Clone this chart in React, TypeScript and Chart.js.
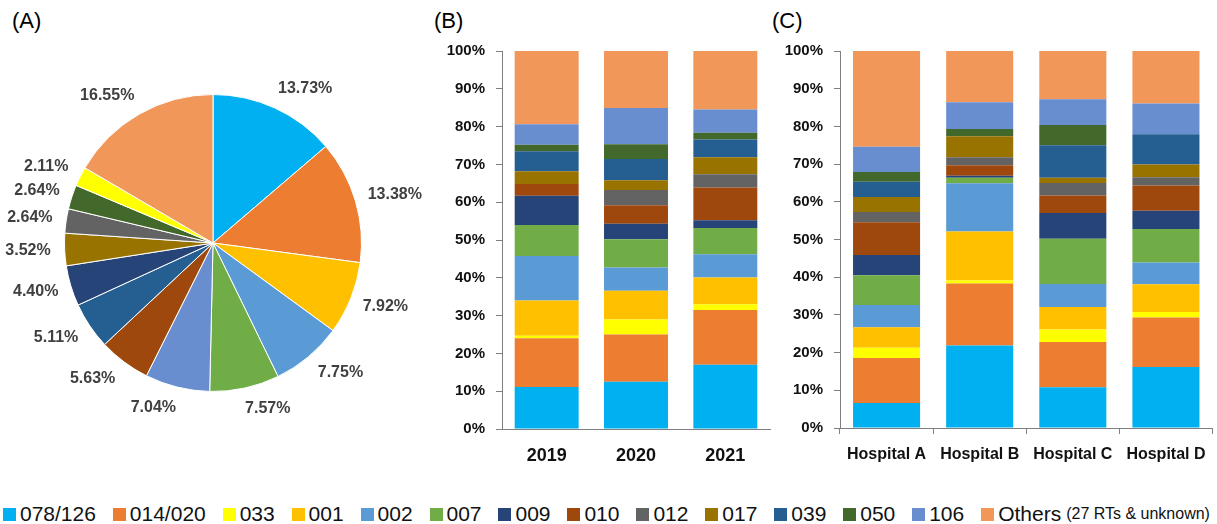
import React, { useEffect, useRef } from 'react';
import { Chart, registerables } from 'chart.js';

Chart.register(...registerables);

const FONT = '"Liberation Sans", Arial, sans-serif';
Chart.defaults.font.family = FONT;

// Serotypes (RTs) shown in every panel, bottom to top in the stacks
const SERIES = ['078/126', '014/020', '033', '001', '002', '007', '009', '010', '012', '017', '039', '050', '106', 'Others'];
const COLORS = ['#00B0F0', '#ED7D31', '#FFFF00', '#FFC000', '#5B9BD5', '#70AD47', '#264478', '#9E480E', '#636363', '#997300', '#255E91', '#43682B', '#698ED0', '#F1975A'];

// (A) overall distribution, clockwise from 12 o'clock
const PIE_LABELS = ['078/126', '014/020', '001', '002', '007', '106', '010', '039', '009', '017', '012', '050', '033', 'Others'];
const PIE_VALUES = [13.73, 13.38, 7.92, 7.75, 7.57, 7.04, 5.63, 5.11, 4.40, 3.52, 2.64, 2.64, 2.11, 16.55];

// (B) share per year (%), in SERIES order
const YEARS = ['2019', '2020', '2021'];
const SHARE_2019 = [11.1, 12.9, 0.7, 9.3, 11.8, 8.2, 7.7, 3.1, 0, 3.4, 5.3, 1.7, 5.4, 19.4];
const SHARE_2020 = [12.5, 12.5, 4.0, 7.6, 6.1, 7.5, 4.1, 4.9, 4.0, 2.6, 5.6, 3.9, 9.6, 15.1];
const SHARE_2021 = [17.0, 14.5, 1.5, 7.1, 6.1, 7.0, 2.0, 8.7, 3.5, 4.5, 4.7, 1.8, 6.1, 15.5];

// (C) share per hospital (%), in SERIES order
const HOSPITALS = ['Hospital A', 'Hospital B', 'Hospital C', 'Hospital D'];
const SHARE_HOSP_A = [6.6, 12.0, 2.7, 5.4, 5.9, 7.9, 5.4, 8.7, 2.7, 4.0, 4.0, 2.6, 6.7, 25.4];
const SHARE_HOSP_B = [21.9, 16.4, 0.8, 13.0, 12.8, 1.5, 0.5, 2.8, 2.1, 5.6, 0, 1.9, 7.1, 13.6];
const SHARE_HOSP_C = [10.8, 12.0, 3.3, 6.0, 6.1, 12.0, 6.8, 4.7, 3.3, 1.4, 8.6, 5.4, 6.8, 12.8];
const SHARE_HOSP_D = [16.2, 13.1, 1.5, 7.3, 5.8, 8.9, 4.8, 6.7, 2.2, 3.4, 8.0, 0, 8.2, 13.9];

const Y_TICK_STEP = 10;
const AXIS = '#7f7f7f';
const TEXT = '#111111';

const colorOf = (name: string) => COLORS[SERIES.indexOf(name)];

// Percent labels placed just outside each slice; labels near the top and
// bottom of the pie are nudged sideways so they clear their neighbours.
const pieLabelPlugin = {
  id: 'pieOutsideLabels',
  afterDatasetsDraw(chart: any) {
    const { ctx } = chart;
    const meta = chart.getDatasetMeta(0);
    const values = chart.data.datasets[0].data as number[];
    ctx.save();
    ctx.font = `bold 16px ${FONT}`;
    ctx.fillStyle = '#404040';
    ctx.textAlign = 'center';
    ctx.textBaseline = 'middle';
    meta.data.forEach((arc: any, i: number) => {
      const { x, y, startAngle, endAngle, outerRadius } = arc.getProps(['x', 'y', 'startAngle', 'endAngle', 'outerRadius'], true);
      const mid = (startAngle + endAngle) / 2;
      const dx = Math.cos(mid);
      const dy = Math.sin(mid);
      const text = values[i].toFixed(2) + '%';
      const w = ctx.measureText(text).width;
      const h = 14;
      const r = outerRadius + 14;
      const nudge = Math.max(0, 18 * dy * dy - 2) * Math.sign(dx);
      const cx = x + dx * r + dx * w / 2 + nudge;
      const cy = y + dy * r + dy * h / 2;
      ctx.fillText(text, cx, cy);
    });
    ctx.restore();
  },
};

function useChart(make: (c: HTMLCanvasElement) => Chart) {
  const ref = useRef<HTMLCanvasElement | null>(null);
  useEffect(() => {
    if (!ref.current) return;
    const chart = make(ref.current);
    return () => chart.destroy();
  }, []);
  return ref;
}

function stackedBar(
  canvas: HTMLCanvasElement,
  labels: string[],
  shares: number[][],
  opts: { barPct: number; yWidth: number; xHeight: number; padRight: number; xFont: number; xPad: number; xTicks: boolean }
) {
  return new Chart(canvas, {
    type: 'bar',
    data: {
      labels,
      datasets: SERIES.map((name, i) => ({
        label: name,
        data: shares.map((s) => s[i]),
        backgroundColor: COLORS[i],
        borderWidth: 0,
        barPercentage: opts.barPct,
        categoryPercentage: 1,
      })),
    },
    options: {
      animation: false,
      responsive: false,
      devicePixelRatio: 1,
      layout: { padding: { top: 21, right: opts.padRight, bottom: 0, left: 0 } },
      plugins: { legend: { display: false }, tooltip: { enabled: false } },
      scales: {
        x: {
          stacked: true,
          grid: opts.xTicks
            ? { display: true, drawOnChartArea: false, drawTicks: true, tickLength: 6, color: AXIS, offset: true }
            : { display: false, drawTicks: false },
          border: { display: true, color: AXIS, width: 1 },
          ticks: { padding: opts.xPad, color: TEXT, font: { size: opts.xFont, weight: 'bold' }, maxRotation: 0 },
          afterFit: (s: any) => { s.height = opts.xHeight; },
        },
        y: {
          stacked: true,
          min: 0,
          max: 100,
          grid: { drawOnChartArea: false, drawTicks: true, tickLength: 6, color: AXIS },
          border: { display: true, color: AXIS, width: 1 },
          ticks: {
            stepSize: Y_TICK_STEP,
            padding: 11,
            color: TEXT,
            font: { size: 15, weight: 'bold' },
            callback: (v: any) => `${v}%`,
          },
          afterFit: (s: any) => { s.width = opts.yWidth; },
        },
      },
    },
  } as any);
}

const panelTitle: React.CSSProperties = {
  position: 'absolute',
  fontFamily: FONT,
  fontSize: 22,
  lineHeight: '22px',
  color: '#000',
  top: 10,
};

export default function App() {
  const pieRef = useChart((c) =>
    new Chart(c, {
      type: 'pie',
      data: {
        labels: PIE_LABELS,
        datasets: [{
          data: PIE_VALUES,
          backgroundColor: PIE_LABELS.map(colorOf),
          borderColor: '#ffffff',
          borderWidth: 1,
        }],
      },
      options: {
        animation: false,
        responsive: false,
        devicePixelRatio: 1,
        layout: { padding: { left: 64, top: 64, right: 68, bottom: 78 } },
        plugins: { legend: { display: false }, tooltip: { enabled: false } },
      },
      plugins: [pieLabelPlugin],
    } as any)
  );

  const yearRef = useChart((c) =>
    stackedBar(c, YEARS, [SHARE_2019, SHARE_2020, SHARE_2021], {
      barPct: 0.716, yWidth: 62, xHeight: 41, padRight: 2, xFont: 18, xPad: 16, xTicks: false,
    })
  );

  const hospRef = useChart((c) =>
    stackedBar(c, HOSPITALS, [SHARE_HOSP_A, SHARE_HOSP_B, SHARE_HOSP_C, SHARE_HOSP_D], {
      barPct: 0.72, yWidth: 60, xHeight: 42, padRight: 4, xFont: 16, xPad: 11, xTicks: true,
    })
  );

  return (
    <div style={{ position: 'absolute', left: 0, top: 0, width: 1217, height: 524, background: '#fff', overflow: 'hidden' }}>
      <div style={{ ...panelTitle, left: 12 }}>(A)</div>
      <div style={{ ...panelTitle, left: 434 }}>(B)</div>
      <div style={{ ...panelTitle, left: 772 }}>(C)</div>

      <canvas ref={pieRef} width={430} height={440} style={{ position: 'absolute', left: 0, top: 30, width: 430, height: 440 }} />
      <canvas ref={yearRef} width={332} height={440} style={{ position: 'absolute', left: 440, top: 30, width: 332, height: 440 }} />
      <canvas ref={hospRef} width={437} height={440} style={{ position: 'absolute', left: 780, top: 30, width: 437, height: 440 }} />

      <div
        style={{
          position: 'absolute', left: 3, top: 503, width: 1207, height: 22,
          display: 'flex', alignItems: 'center', justifyContent: 'space-between',
          fontFamily: FONT, fontSize: 21, color: TEXT, whiteSpace: 'nowrap',
        }}
      >
        {SERIES.map((name, i) => (
          <div key={name} style={{ display: 'flex', alignItems: 'center' }}>
            <span style={{ display: 'inline-block', width: 13, height: 13, background: COLORS[i], marginRight: 4 }} />
            <span>{name}</span>
            {name === 'Others' && <span style={{ fontSize: 16, marginLeft: 5 }}>(27 RTs &amp; unknown)</span>}
          </div>
        ))}
      </div>
    </div>
  );
}
